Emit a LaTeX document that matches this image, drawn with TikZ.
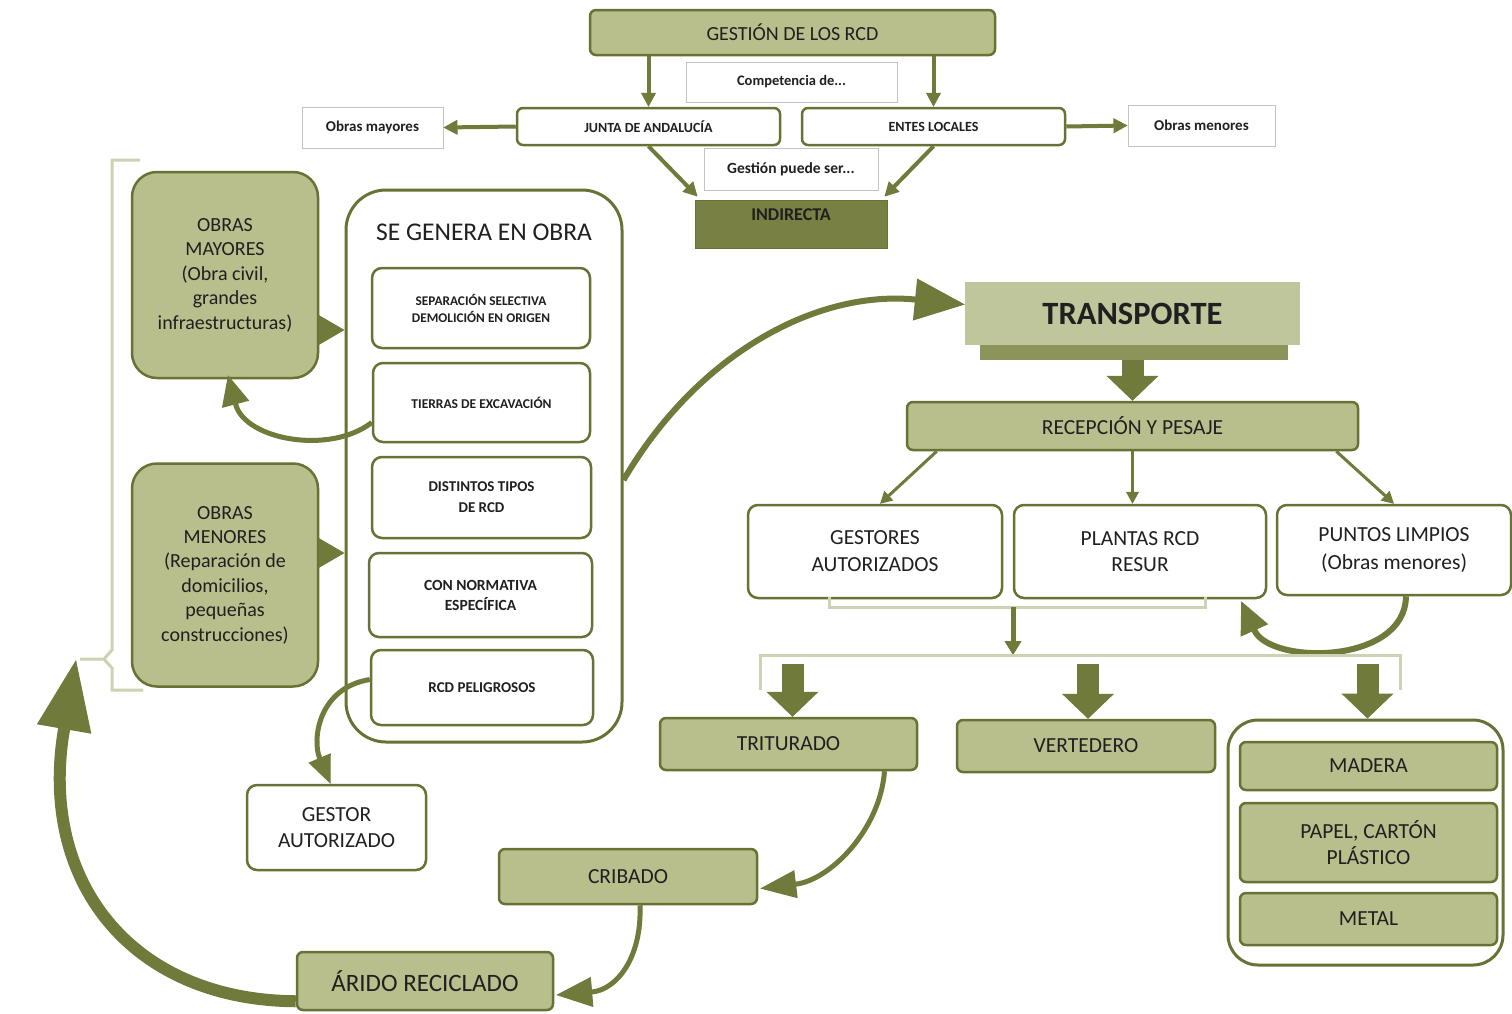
\documentclass[tikz,border=0pt]{standalone}
\usepackage{fontspec}
\setmainfont{Carlito}
\usetikzlibrary{arrows.meta,calc}
\definecolor{oF}{RGB}{184,190,140}
\definecolor{oD}{RGB}{104,114,52}
\definecolor{oA}{RGB}{112,122,58}
\definecolor{oI}{RGB}{120,128,68}
\definecolor{oL}{RGB}{205,210,178}
\definecolor{tF}{RGB}{192,198,155}
\definecolor{tS}{RGB}{140,148,92}
\definecolor{txt}{RGB}{32,32,32}
\definecolor{gB}{RGB}{195,195,195}
\begin{document}
\begin{tikzpicture}[x=1pt,y=-1pt,
  box/.style={draw=oD, line width=2.5pt, rounded corners=6pt, text=txt, align=center, inner sep=2pt},
  obox/.style={box, fill=oF},
  wbox/.style={box, fill=white},
  gbox/.style={draw=gB, line width=1pt, fill=white, text=txt, align=center, inner sep=2pt},
  sz/.style 2 args={font=\fontsize{#1}{#2}\selectfont},
  bz/.style 2 args={font=\fontsize{#1}{#2}\selectfont\bfseries},
  thk/.style={draw=oA, line width=4pt, -{Triangle[length=14pt,width=15pt,line width=1pt]}},
  thn/.style={draw=oA, line width=3pt, -{Triangle[length=12pt,width=13pt,line width=1pt]}},
  blk/.style={draw=oA, line width=22pt, -{Triangle[length=25pt,width=52pt,line width=1pt]}},
  crv/.style 2 args={draw=oA, line width=5pt, -{Triangle[length=#1,width=#2,line width=1pt]}},
  tri/.style={draw=oA, line width=2pt, -{Triangle[length=26pt,width=30pt,line width=1pt]}},
  brk/.style={draw=oL, line width=3pt},
]
\useasboundingbox (0,0) rectangle (1512,1013);
\fill[white] (0,0) rectangle (1512,1013);

% ---------- top ----------
\node[obox, sz={20}{23}, minimum width=405pt, minimum height=45pt] (gest) at (792.5,32.5) {GESTIÓN DE LOS RCD};
\node[gbox, bz={14.5}{17}, minimum width=211pt, minimum height=40pt] (comp) at (791.5,82) {Competencia de...};
\node[wbox, bz={14}{16}, minimum width=263pt, minimum height=37pt] (junta) at (648.5,126.5) {JUNTA DE ANDALUCÍA};
\node[wbox, bz={14}{16}, minimum width=263pt, minimum height=37pt] (entes) at (933.5,126.5) {ENTES LOCALES};
\node[gbox, bz={15}{17}, minimum width=141pt, minimum height=41pt] (omay) at (372.5,127.5) {Obras mayores};
\node[gbox, bz={15}{17}, minimum width=147pt, minimum height=41pt] (omen) at (1201.5,125.5) {Obras menores};
\node[gbox, bz={15.5}{18}, minimum width=174pt, minimum height=42pt] (gps) at (791,169) {Gestión puede ser...};
\node[draw=oD, line width=1pt, fill=oI, text=txt, bz={18}{20}, minimum width=192pt, text height=12pt, text depth=20pt, inner sep=8pt] (indir) at (791,224) {INDIRECTA};

\draw[thk] (gest.south -| junta.north) -- (junta.north);
\draw[thk] (gest.south -| entes.north) -- (entes.north);
\draw[thk] (junta.west) -- (omay.east);
\draw[thk] (entes.east) -- (omen.west);
\draw[thk] (junta.south) -- ($(indir.north west)+(3,-3)$);
\draw[thk] (entes.south) -- ($(indir.north east)+(-3,-3)$);

% ---------- left ----------
\draw[brk] (140,160) -- (112,160) -- (112,650) -- (104,659) -- (80,659);
\draw[brk] (104,659) -- (112,668) -- (112,690) -- (143,690);
\coordinate (nub) at (76,660);

\node[obox, rounded corners=25pt, sz={20}{24.5}, minimum width=186pt, minimum height=206pt] (omaj) at (225,275)
  {OBRAS\\MAYORES\\(Obra civil,\\grandes\\infraestructuras)};
\node[obox, rounded corners=25pt, sz={20}{24.4}, minimum width=186pt, minimum height=223pt] (omin) at (225,575)
  {OBRAS\\MENORES\\(Reparación de\\domicilios,\\pequeñas\\construcciones)};

\node[wbox, line width=3pt, rounded corners=40pt, minimum width=276pt, minimum height=552pt] (seg) at (484,466) {};
\node[text=txt, sz={25.5}{28}] (segt) at (484,232) {SE GENERA EN OBRA};
\node[wbox, rounded corners=10pt, bz={13.3}{17}, minimum width=218pt, minimum height=80pt] (sep) at (481,308) {SEPARACIÓN SELECTIVA\\DEMOLICIÓN EN ORIGEN};
\node[wbox, rounded corners=10pt, bz={13.5}{17}, minimum width=217pt, minimum height=79pt] (tie) at (481.5,402.5) {TIERRAS DE EXCAVACIÓN};
\node[wbox, rounded corners=10pt, bz={15}{21}, minimum width=219pt, minimum height=81pt] (dis) at (481.5,497.5) {DISTINTOS TIPOS\\DE RCD};
\node[wbox, rounded corners=10pt, bz={15.5}{20}, minimum width=223pt, minimum height=84pt] (con) at (480.5,595) {CON NORMATIVA\\ESPECÍFICA};
\node[wbox, rounded corners=10pt, bz={15}{17}, minimum width=222pt, minimum height=75pt] (pel) at (482,687.5) {RCD PELIGROSOS};
\node[wbox, rounded corners=10pt, sz={21.5}{26}, minimum width=179pt, minimum height=85pt] (gaut) at (336.5,827.5) {GESTOR\\AUTORIZADO};

\draw[tri] ($(omaj.east)+(0,55)$) -- ($(seg.west |- omaj.east)+(0,55)$);
\draw[tri] ($(omin.east)+(0,-22)$) -- ($(seg.west |- omin.east)+(0,-22)$);
\draw[crv={30pt}{28pt}] ($(tie.west)+(0,20)$) .. controls (330,455) and (245,440) .. ($(omaj.south)+(3,-4)$);
\draw[crv={28pt}{24pt}] ($(pel.west)+(0,-8)$) .. controls (318,688) and (312,740) .. ($(gaut.north)+(-6,0)$);

% ---------- transport ----------
\fill[tS] (980,343) rectangle (1288,360);
\node[fill=tF, text=txt, font=\fontsize{32.5}{36}\selectfont\bfseries, minimum width=335pt, minimum height=63pt] (trans) at (1132.5,313.5) {TRANSPORTE};
\draw[crv={50pt}{42pt}, line width=6pt] ($(seg.east)+(0,14)$) .. controls (700,350) and (820,290) .. ($(trans.west)+(0,-9)$);

\node[obox, sz={21.5}{24}, minimum width=451pt, minimum height=48pt] (rec) at (1132.5,426) {RECEPCIÓN Y PESAJE};
\draw[blk] ($(trans.south)+(0,15)$) -- (rec.north);

\node[wbox, rounded corners=10pt, sz={21.5}{27}, minimum width=254pt, minimum height=93pt] (gaus) at (875,551.5) {GESTORES\\AUTORIZADOS};
\node[wbox, rounded corners=10pt, sz={21.5}{26}, minimum width=252pt, minimum height=93pt] (plan) at (1140,551.5) {PLANTAS RCD\\RESUR};
\node[wbox, rounded corners=10pt, sz={21.5}{28}, minimum width=234pt, minimum height=90pt] (pun) at (1394,550) {PUNTOS LIMPIOS\\(Obras menores)};

\draw[thn] ($(rec.south west)+(31,0)$) -- ($(gaus.north)+(5,0)$);
\draw[thn] (rec.south) -- (rec.south |- plan.north);
\draw[thn] ($(rec.south east)+(-23,0)$) -- (pun.north);

\draw[brk] (829,597) -- (829,607) -- (1205,607) -- (1205,597);
\coordinate (b1) at (1013,607);
\coordinate (b2) at (1013,655);
\draw[draw=oA, line width=5pt, -{Triangle[length=14pt,width=17pt,line width=1pt]}] (b1) -- (b2);
\draw[crv={32pt}{30pt}, line width=6pt] ($(pun.south)+(12,0)$) .. controls (1405,665) and (1270,665) .. ($(plan.south east)+(-26,2)$);

\draw[brk] (760,690) -- (760,655) -- (1400,655) -- (1400,690);

% ---------- bottom ----------
\node[obox, sz={21.5}{24}, minimum width=257pt, minimum height=52pt] (trit) at (788.5,744) {TRITURADO};
\node[obox, sz={21.5}{24}, minimum width=258pt, minimum height=52pt] (vert) at (1086,746) {VERTEDERO};
\node[wbox, line width=3pt, rounded corners=30pt, minimum width=275pt, minimum height=245pt] (cont) at (1365.5,842.5) {};
\node[obox, sz={21.5}{24}, minimum width=257pt, minimum height=48pt] (mad) at (1368.5,766) {MADERA};
\node[obox, sz={21.5}{26}, minimum width=257pt, minimum height=79pt] (pap) at (1368.5,842.5) {PAPEL, CARTÓN\\PLÁSTICO};
\node[obox, sz={21.5}{24}, minimum width=257pt, minimum height=52pt] (met) at (1368.5,919) {METAL};

\draw[blk] ($(trit.north)+(4,-53)$) -- ($(trit.north)+(4,0)$);
\draw[blk] ($(vert.north)+(2,-55)$) -- ($(vert.north)+(2,0)$);
\draw[blk] ($(cont.north)+(2,-55)$) -- ($(cont.north)+(2,0)$);

\node[obox, sz={21.5}{24}, minimum width=258pt, minimum height=55pt] (crib) at (628,876.5) {CRIBADO};
\node[obox, sz={25}{28}, minimum width=256pt, minimum height=58pt] (arid) at (425,981) {ÁRIDO RECICLADO};

\draw[crv={36pt}{28pt}] ($(trit.south)+(96,0)$) .. controls (880,830) and (830,880) .. ($(crib.east)+(2,12)$);
\draw[crv={36pt}{30pt}] ($(crib.south)+(12,0)$) .. controls (642,960) and (615,990) .. ($(arid.east)+(2,14)$);
\draw[crv={70pt}{55pt}, line width=12pt] ($(arid.south west)+(0,-10)$) .. controls (130,1000) and (38,880) .. (nub);
\end{tikzpicture}
\end{document}
